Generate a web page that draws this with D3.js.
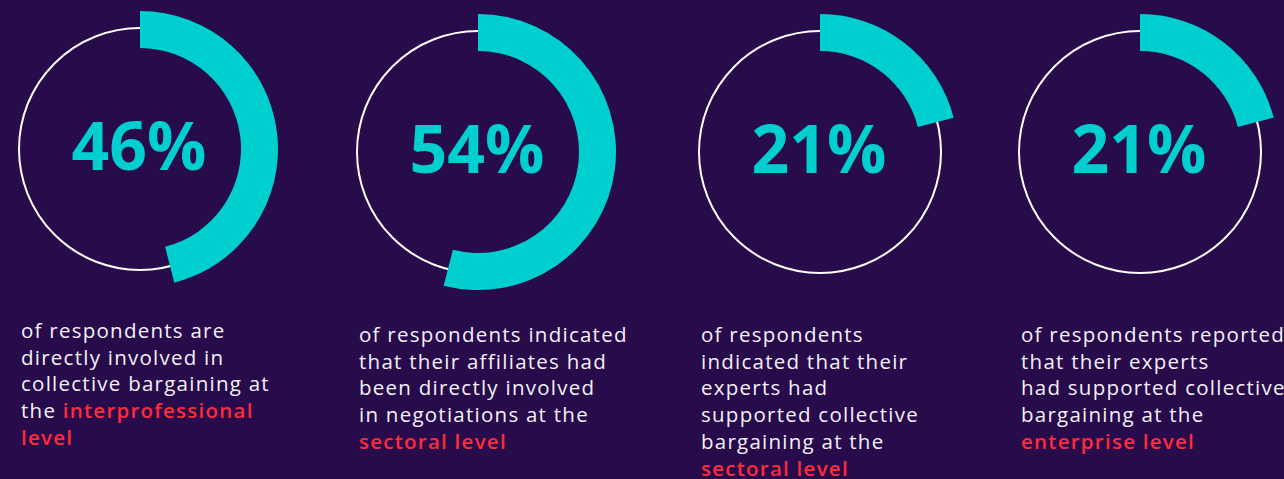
<!DOCTYPE html>
<html>
<head>
<meta charset="utf-8">
<script src="https://d3js.org/d3.v7.min.js"></script>
<style>
  html, body { margin: 0; padding: 0; background: #280b4b; overflow: hidden; }
  .pct { font-family: "Open Sans", sans-serif; font-weight: 700; }
  .desc { font-family: "Open Sans", sans-serif; font-size: 20.5px; letter-spacing: 1.25px; }
</style>
</head>
<body>
<svg class="chart-svg"></svg>
<script>
var svgWidth = 1284;
var svgHeight = 479;
var bgColor = "#280b4b";
var arcColor = "#00cfd0";
var ringColor = "#ffffff";
var textColor = "#f2f0f7";
var highlightColor = "#ff2a3a";

// data
var percents = [46, 54, 21, 21];
var descLines = [
  ["of respondents are", "directly involved in", "collective bargaining at", "the "],
  ["of respondents indicated", "that their affiliates had", "been directly involved", "in negotiations at the"],
  ["of respondents", "indicated that their", "experts had", "supported collective", "bargaining at the"],
  ["of respondents reported", "that their experts", "had supported collective", "bargaining at the"]
];
var highlights = ["interprofessional\nlevel", "sectoral level", "sectoral level", "enterprise level"];

// layout
var centersX = [140, 478, 820, 1140];
var centersY = [149, 152, 152, 152];
var textX = [21, 359, 701, 1021];
var textY = [338, 342, 342, 342];
var lineHeight = 26.7;
var ringRadius = 121;
var innerR = 101;
var outerR = 138;

var svg = d3.select('.chart-svg').attr('width', svgWidth).attr('height', svgHeight);
svg.append('rect').attr('width', svgWidth).attr('height', svgHeight).attr('fill', bgColor);

var angle = d3.scaleLinear().domain([0, 100]).range([0, 2 * Math.PI]);
var arc = d3.arc().innerRadius(innerR).outerRadius(outerR).startAngle(0);

var groups = svg.selectAll('g.donut').data(percents).enter().append('g')
  .attr('class', 'donut')
  .attr('transform', function(d, i) { return 'translate(' + centersX[i] + ',' + centersY[i] + ')'; });

groups.append('circle')
  .attr('r', ringRadius)
  .attr('fill', 'none')
  .attr('stroke', ringColor)
  .attr('stroke-width', 2);

groups.append('path')
  .attr('d', function(d) { return arc({endAngle: angle(d)}); })
  .attr('fill', arcColor);

groups.append('text')
  .attr('class', 'pct')
  .attr('text-anchor', 'middle')
  .attr('x', -1)
  .attr('y', 21)
  .attr('font-size', 66)
  .attr('fill', arcColor)
  .text(function(d) { return d + '%'; });

// description text under each ring
descLines.forEach(function(lines, i) {
  var t = svg.append('text').attr('class', 'desc').attr('x', textX[i]).attr('y', textY[i]);
  var hl = highlights[i].split('\n');
  lines.forEach(function(line, j) {
    t.append('tspan').attr('x', textX[i]).attr('y', textY[i] + j * lineHeight)
      .attr('fill', textColor).text(line);
  });
  var n = lines.length;
  var lastLine = lines[n - 1];
  hl.forEach(function(part, k) {
    if (k == 0 && lastLine.slice(-1) == ' ') {
      // continue on same line as the last white line
      t.append('tspan').attr('fill', highlightColor).attr('font-weight', 600).text(part);
    } else {
      var row = (lastLine.slice(-1) == ' ') ? n - 1 + k : n + k;
      t.append('tspan').attr('x', textX[i]).attr('y', textY[i] + row * lineHeight)
        .attr('fill', highlightColor).attr('font-weight', 600).text(part);
    }
  });
});
</script>
</body>
</html>
